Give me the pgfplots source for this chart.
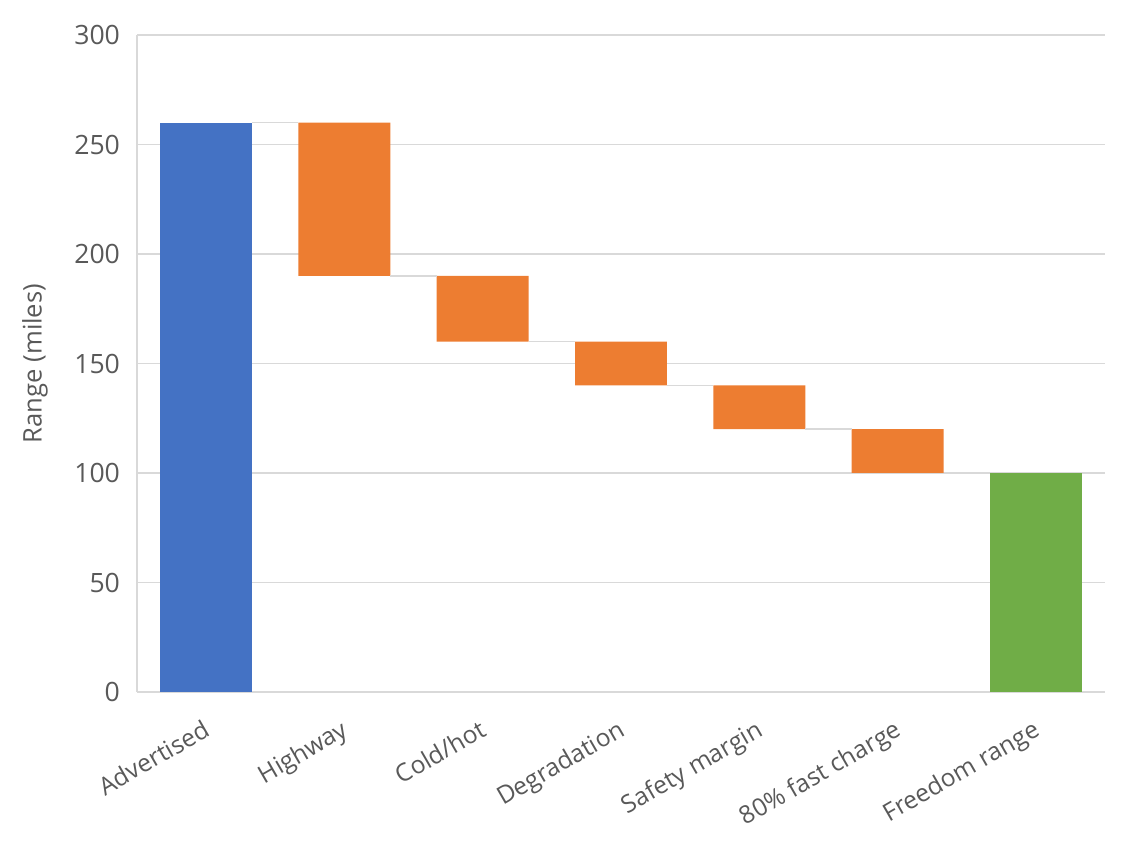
\documentclass[border=0pt]{standalone}
\usepackage{fontspec}
\setmainfont{Open Sans}
\usepackage{pgfplots}
\pgfplotsset{compat=1.18}
\definecolor{cblue}{HTML}{4472C4}
\definecolor{corange}{HTML}{ED7D31}
\definecolor{cgreen}{HTML}{70AD47}
\definecolor{cgrid}{HTML}{D9D9D9}
\definecolor{ctext}{HTML}{595959}
\begin{document}
\begin{tikzpicture}
\pgfplotsset{
  common/.style={
    width=484pt, height=328.5pt, scale only axis,
    xmin=-0.5, xmax=6.5, ymin=0, ymax=300,
  }
}
\begin{axis}[
  common,
  ybar stacked, bar width=0.665,
  axis lines=left, axis line style={cgrid, line width=0.75pt, -},
  ymajorgrids, major grid style={cgrid, line width=0.75pt},
  major tick length=0pt,
  ytick={0,50,...,300},
  xtick={0,...,6},
  xticklabels={Advertised,Highway,Cold/hot,Degradation,Safety margin,80\% fast charge,Freedom range},
  tick label style={text=ctext},
  yticklabel style={font=\fontsize{13.3}{16}\selectfont, xshift=-5pt},
  /pgf/number format/assume math mode=true,
  xticklabel style={font=\fontsize{12.3}{15}\selectfont, rotate=30, anchor=north east, xshift=-5pt, yshift=-7pt},
  ylabel={Range (miles)},
  every axis y label/.style={at={(axis description cs:-0.1054,0.5)}, rotate=90, anchor=center, font=\fontsize{12.8}{15}\selectfont, text=ctext},
]
\addplot[draw=none, fill=none] coordinates {(0,0) (1,190) (2,160) (3,140) (4,120) (5,100) (6,0)};
\addplot[draw=none, fill=cblue] coordinates {(0,260) (1,0) (2,0) (3,0) (4,0) (5,0) (6,0)};
\addplot[draw=none, fill=corange] coordinates {(0,0) (1,70) (2,30) (3,20) (4,20) (5,20) (6,0)};
\addplot[draw=none, fill=cgreen] coordinates {(0,0) (1,0) (2,0) (3,0) (4,0) (5,0) (6,100)};
\end{axis}
\begin{axis}[common, hide axis, unbounded coords=jump]
\addplot[cgrid, line width=0.75pt, mark=none] coordinates {
(0.3325,260) (0.6675,260) (nan,nan)
(1.3325,190) (1.6675,190) (nan,nan)
(2.3325,160) (2.6675,160) (nan,nan)
(3.3325,140) (3.6675,140) (nan,nan)
(4.3325,120) (4.6675,120) (nan,nan)
(5.3325,100) (5.6675,100)
};
\end{axis}
\pgfresetboundingbox
\path ([shift={(-68.5pt,-80.5pt)}]current axis.south west) rectangle ([shift={(14.5pt,17.5pt)}]current axis.north east);
\end{tikzpicture}
\end{document}
